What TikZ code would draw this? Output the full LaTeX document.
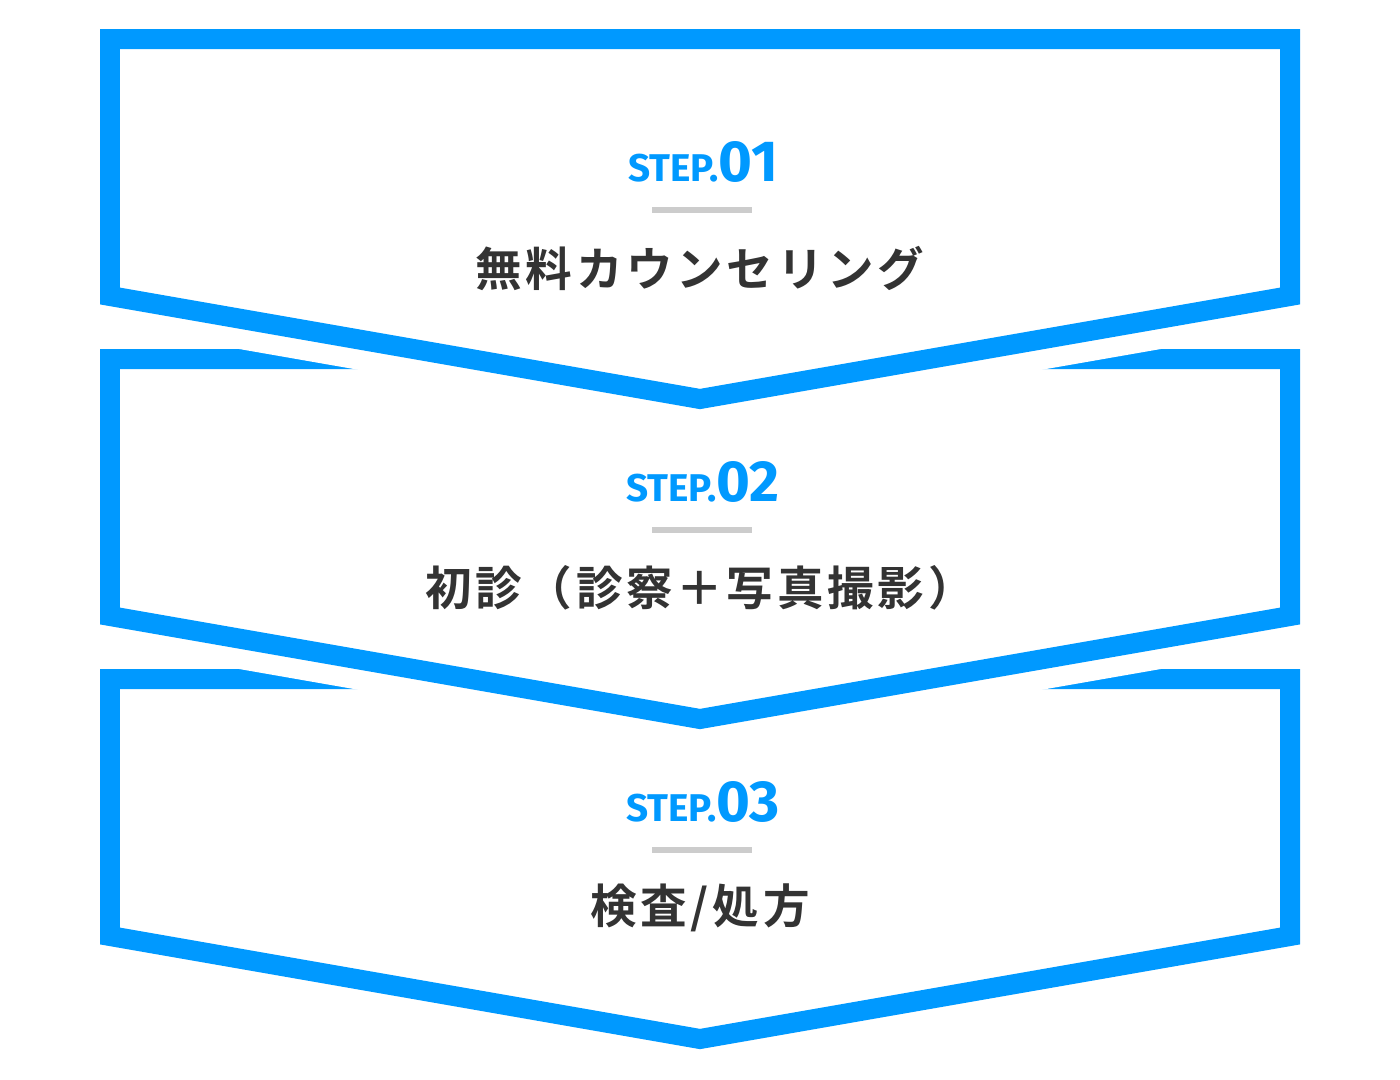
\documentclass[tikz,border=0pt]{standalone}
\usepackage{fontspec}
\usepackage{xcolor}
\setmainfont{Fira Sans}
\newfontfamily\jpfont{Noto Sans CJK JP}[BoldFont=* Bold, LetterSpace=8]
\definecolor{stepblue}{HTML}{0099FF}
\definecolor{txtgray}{HTML}{333333}
\definecolor{bargray}{HTML}{CCCCCC}

\begin{document}
\begin{tikzpicture}[
    x=0.02cm, y=-0.02cm,
    frame/.style={draw=stepblue, line width=0.4cm, miter limit=20},
    gap/.style={draw=white, fill=white, line width=1.2cm, miter limit=20},
    lbl/.style={text=stepblue, anchor=base, inner sep=0pt, font=\bfseries},
    bar/.style={fill=bargray, minimum width=2cm, minimum height=0.12cm,
                inner sep=0pt},
    ttl/.style={text=txtgray, inner sep=0pt,
                font=\jpfont\bfseries\fontsize{26.5pt}{30pt}\selectfont},
  ]

  \useasboundingbox (0,0) rectangle (1400,1079);

  % -- Steps, bottom one first so each upper arrow cuts the next top edge
  \foreach \i/\num/\title in {3/03/{検査/処方},
                              2/02/{初診（診察＋写真撮影）},
                              1/01/{無料カウンセリング}} {
    \pgfmathsetmacro{\dy}{320*(\i-1)}
    \draw[gap] (110,39+\dy) -- (1290,39+\dy) -- (1290,296+\dy)
      -- (700,399+\dy) -- (110,296+\dy) -- cycle;
    \draw[frame] (110,39+\dy) -- (1290,39+\dy) -- (1290,296+\dy)
      -- (700,399+\dy) -- (110,296+\dy) -- cycle;

    \node[lbl] (label\i) at (703,181+\dy)
      {\fontsize{22pt}{24pt}\selectfont STEP.%
       \fontsize{33pt}{36pt}\selectfont\num};
    \node[bar] (bar\i) at (702,210+\dy) {};
    \node[ttl] (title\i) at (700,268+\dy) {\title};
  }

\end{tikzpicture}
\end{document}
